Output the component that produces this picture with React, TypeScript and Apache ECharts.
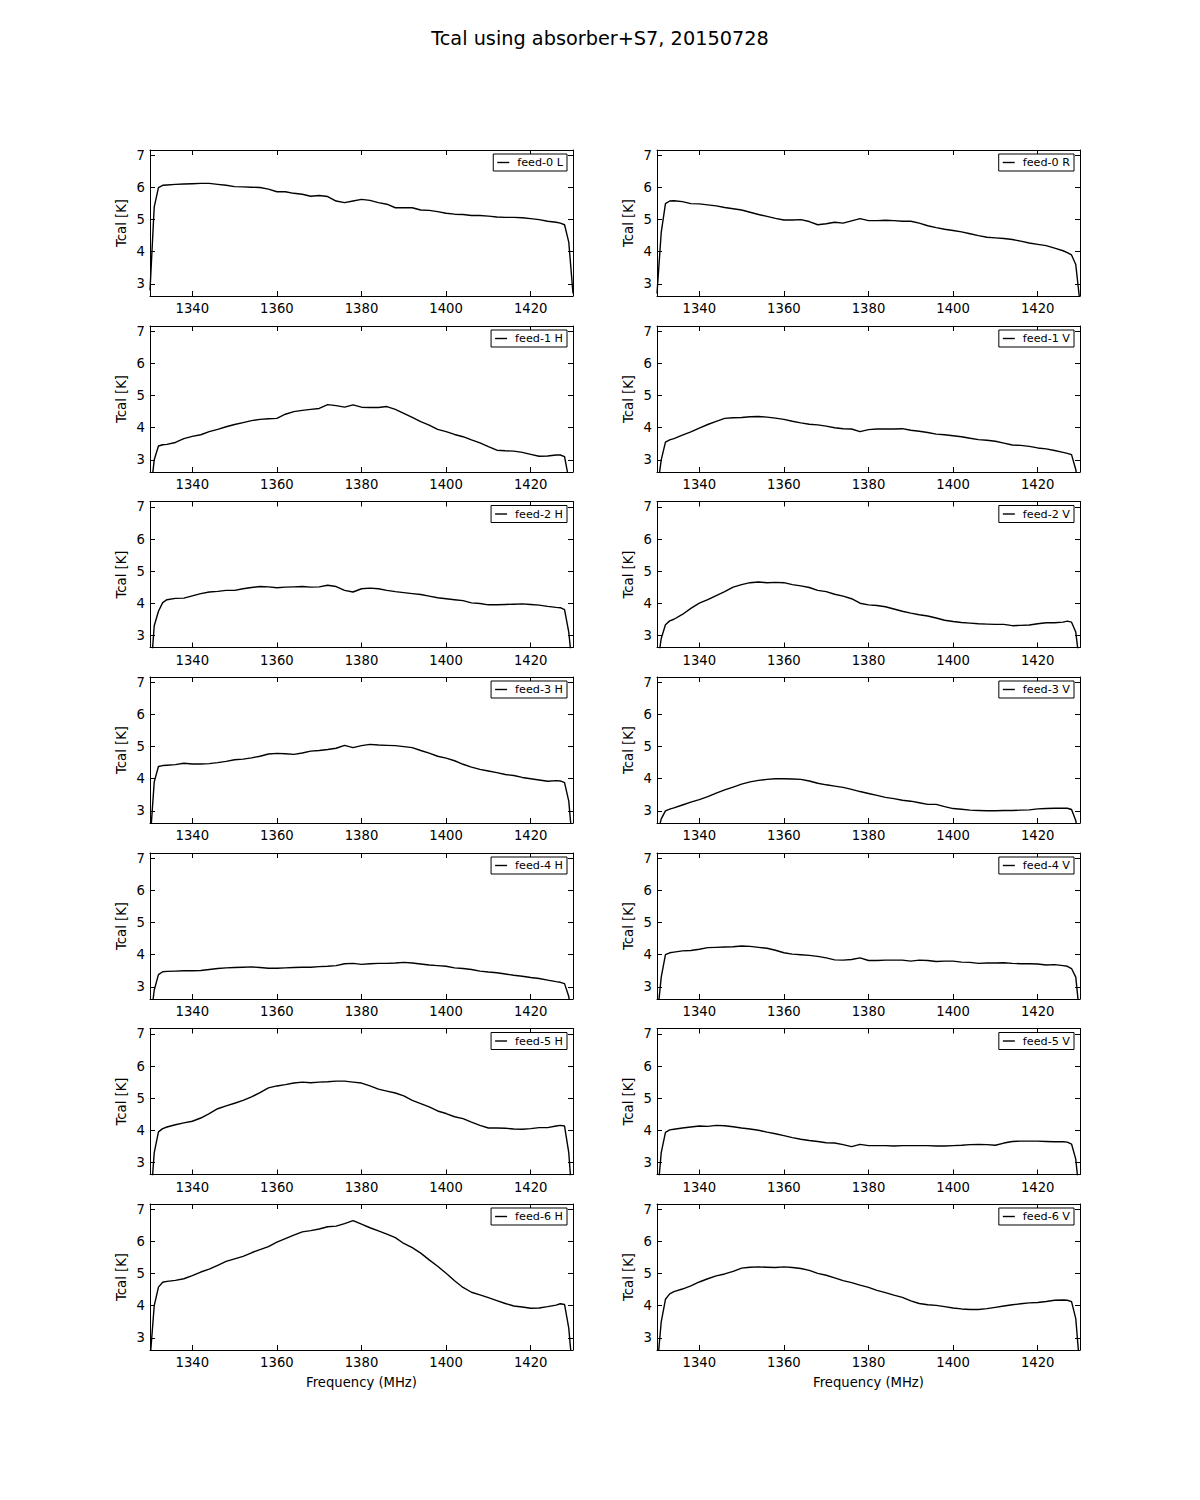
import React, { useEffect, useRef } from "react";
import * as echarts from "echarts";

const TITLE = "Tcal using absorber+S7, 20150728";
const X_LABEL = "Frequency (MHz)";
const Y_LABEL = "Tcal [K]";
const X_TICKS = [1340, 1360, 1380, 1400, 1420];
const Y_TICKS = [3, 4, 5, 6, 7];

const freqs = [
  1330, 1331, 1332, 1333,
  1334, 1336, 1338, 1340, 1342, 1344, 1346, 1348, 1350, 1352, 1354, 1356, 1358, 1360,
  1362, 1364, 1366, 1368, 1370, 1372, 1374, 1376, 1378, 1380, 1382, 1384, 1386, 1388,
  1390, 1392, 1394, 1396, 1398, 1400, 1402, 1404, 1406, 1408, 1410, 1412, 1414, 1416,
  1418, 1420, 1422, 1424, 1426,
  1427, 1428, 1429, 1430,
];

const feed0L = [2.8, 5.4, 6.0, 6.07,
  6.08, 6.1, 6.11, 6.12, 6.13, 6.13, 6.1, 6.07, 6.03, 6.02, 6.01, 6.0, 5.95, 5.87, 5.87, 5.82, 5.79, 5.73, 5.75, 5.72, 5.58, 5.53, 5.58, 5.63, 5.6, 5.53, 5.48, 5.37, 5.37, 5.37, 5.3, 5.29, 5.25, 5.2, 5.17, 5.16, 5.13, 5.13, 5.11, 5.08, 5.07, 5.07, 5.06, 5.03, 5.0, 4.95, 4.92,
  4.89, 4.84, 4.3, 2.7];
const feed0R = [2.7, 4.6, 5.5, 5.58,
  5.59, 5.56, 5.5, 5.49, 5.46, 5.43, 5.38, 5.34, 5.3, 5.23, 5.16, 5.1, 5.04, 4.99, 4.99, 5.0, 4.94, 4.84, 4.87, 4.92, 4.89, 4.96, 5.03, 4.97, 4.97, 4.98, 4.97, 4.95, 4.95, 4.89, 4.81, 4.75, 4.7, 4.66, 4.62, 4.56, 4.5, 4.45, 4.43, 4.41, 4.38, 4.33, 4.27, 4.23, 4.19, 4.11, 4.03,
  3.97, 3.9, 3.6, 2.4];
const feed1H = [1.8, 3.0, 3.43, 3.47,
  3.48, 3.54, 3.66, 3.73, 3.78, 3.88, 3.95, 4.03, 4.1, 4.16, 4.22, 4.26, 4.28, 4.29, 4.42, 4.5, 4.54, 4.57, 4.6, 4.72, 4.69, 4.64, 4.71, 4.64, 4.63, 4.63, 4.66, 4.57, 4.45, 4.32, 4.19, 4.08, 3.95, 3.88, 3.79, 3.72, 3.62, 3.53, 3.41, 3.3, 3.28, 3.27, 3.23, 3.17, 3.11, 3.12, 3.15,
  3.15, 3.1, 2.4, 1.5];
const feed1V = [2.0, 3.0, 3.55, 3.62,
  3.66, 3.77, 3.87, 3.99, 4.1, 4.2, 4.29, 4.31, 4.32, 4.34, 4.35, 4.33, 4.3, 4.26, 4.2, 4.15, 4.11, 4.09, 4.05, 4.0, 3.97, 3.96, 3.88, 3.94, 3.96, 3.96, 3.96, 3.97, 3.92, 3.89, 3.85, 3.8, 3.78, 3.75, 3.72, 3.67, 3.63, 3.61, 3.58, 3.52, 3.46, 3.45, 3.42, 3.37, 3.34, 3.29, 3.23,
  3.2, 3.16, 2.7, 1.8];
const feed2H = [1.5, 3.3, 3.75, 4.02,
  4.11, 4.15, 4.16, 4.23, 4.3, 4.35, 4.37, 4.4, 4.4, 4.45, 4.49, 4.52, 4.51, 4.48, 4.5, 4.51, 4.52, 4.5, 4.51, 4.56, 4.52, 4.4, 4.35, 4.45, 4.47, 4.45, 4.4, 4.36, 4.33, 4.3, 4.27, 4.22, 4.17, 4.14, 4.11, 4.08, 4.01, 3.99, 3.95, 3.95, 3.96, 3.97, 3.98, 3.96, 3.94, 3.9, 3.87,
  3.86, 3.8, 3.1, 1.8];
const feed2V = [2.0, 2.9, 3.33, 3.45,
  3.5, 3.65, 3.84, 4.0, 4.11, 4.24, 4.36, 4.5, 4.58, 4.64, 4.66, 4.64, 4.65, 4.64, 4.58, 4.54, 4.49, 4.4, 4.36, 4.28, 4.22, 4.14, 4.0, 3.95, 3.93, 3.89, 3.82, 3.75, 3.69, 3.64, 3.6, 3.54, 3.47, 3.43, 3.4, 3.38, 3.36, 3.35, 3.34, 3.34, 3.3, 3.31, 3.32, 3.36, 3.39, 3.39, 3.41,
  3.44, 3.41, 3.1, 2.0];
const feed3H = [2.0, 3.9, 4.38, 4.41,
  4.42, 4.44, 4.48, 4.46, 4.46, 4.47, 4.5, 4.54, 4.59, 4.61, 4.65, 4.7, 4.77, 4.79, 4.78, 4.76, 4.8, 4.86, 4.88, 4.91, 4.95, 5.04, 4.97, 5.03, 5.07, 5.05, 5.04, 5.03, 5.0, 4.97, 4.88, 4.8, 4.7, 4.64, 4.56, 4.45, 4.36, 4.29, 4.24, 4.19, 4.13, 4.1, 4.04, 4.0, 3.96, 3.92, 3.94,
  3.93, 3.88, 3.3, 1.8];
const feed3V = [2.2, 2.75, 3.0, 3.05,
  3.09, 3.18, 3.27, 3.35, 3.44, 3.55, 3.65, 3.74, 3.83, 3.9, 3.95, 3.98, 4.0, 4.0, 3.99, 3.98, 3.93, 3.86, 3.81, 3.77, 3.73, 3.67, 3.6, 3.54, 3.48, 3.42, 3.38, 3.33, 3.3, 3.25, 3.2, 3.2, 3.13, 3.07, 3.05, 3.02, 3.01, 3.0, 3.0, 3.01, 3.01, 3.02, 3.03, 3.06, 3.07, 3.08, 3.08,
  3.08, 3.04, 2.7, 1.8];
const feed4H = [1.8, 2.9, 3.38, 3.47,
  3.48, 3.49, 3.5, 3.5, 3.51, 3.54, 3.57, 3.59, 3.6, 3.61, 3.62, 3.6, 3.58, 3.58, 3.59, 3.6, 3.61, 3.61, 3.63, 3.64, 3.66, 3.72, 3.73, 3.7, 3.72, 3.73, 3.73, 3.74, 3.76, 3.74, 3.71, 3.68, 3.66, 3.64, 3.59, 3.57, 3.54, 3.49, 3.46, 3.44, 3.4, 3.36, 3.33, 3.29, 3.26, 3.21, 3.16,
  3.14, 3.1, 2.7, 1.5];
const feed4V = [2.0, 3.3, 4.0, 4.06,
  4.08, 4.12, 4.13, 4.17, 4.22, 4.23, 4.24, 4.25, 4.27, 4.26, 4.23, 4.2, 4.14, 4.06, 4.02, 4.0, 3.98, 3.95, 3.9, 3.84, 3.83, 3.85, 3.9, 3.82, 3.82, 3.83, 3.83, 3.83, 3.8, 3.83, 3.82, 3.79, 3.8, 3.8, 3.77, 3.76, 3.73, 3.74, 3.74, 3.75, 3.73, 3.72, 3.72, 3.71, 3.68, 3.69, 3.66,
  3.64, 3.57, 3.3, 2.0];
const feed5H = [1.5, 3.3, 3.95, 4.05,
  4.1, 4.17, 4.23, 4.28, 4.38, 4.52, 4.67, 4.76, 4.84, 4.93, 5.04, 5.17, 5.32, 5.38, 5.42, 5.47, 5.5, 5.48, 5.5, 5.51, 5.53, 5.53, 5.5, 5.47, 5.38, 5.28, 5.22, 5.16, 5.07, 4.93, 4.83, 4.73, 4.6, 4.52, 4.42, 4.36, 4.25, 4.15, 4.07, 4.07, 4.06, 4.04, 4.03, 4.05, 4.08, 4.08, 4.13,
  4.15, 4.13, 3.3, 1.5];
const feed5V = [1.8, 3.3, 3.93, 4.01,
  4.03, 4.07, 4.1, 4.13, 4.12, 4.15, 4.14, 4.11, 4.07, 4.04, 4.0, 3.94, 3.89, 3.83, 3.77, 3.72, 3.68, 3.65, 3.61, 3.6, 3.55, 3.49, 3.56, 3.52, 3.52, 3.52, 3.51, 3.52, 3.52, 3.52, 3.52, 3.51, 3.51, 3.52, 3.53, 3.55, 3.56, 3.55, 3.53, 3.6, 3.65, 3.66, 3.66, 3.66, 3.65, 3.64, 3.64,
  3.63, 3.57, 3.1, 1.8];
const feed6H = [2.3, 4.0, 4.58, 4.73,
  4.76, 4.79, 4.84, 4.94, 5.05, 5.14, 5.26, 5.38, 5.46, 5.54, 5.65, 5.75, 5.84, 5.98, 6.09, 6.2, 6.3, 6.34, 6.39, 6.46, 6.48, 6.56, 6.65, 6.54, 6.43, 6.33, 6.23, 6.12, 5.94, 5.81, 5.64, 5.43, 5.23, 5.01, 4.78, 4.57, 4.42, 4.34, 4.25, 4.16, 4.07, 3.99, 3.96, 3.92, 3.93, 3.97, 4.02,
  4.06, 4.04, 3.3, 1.8];
const feed6V = [2.0, 3.5, 4.2, 4.37,
  4.44, 4.52, 4.62, 4.74, 4.84, 4.93, 4.99, 5.07, 5.17, 5.2, 5.21, 5.2, 5.19, 5.21, 5.19, 5.16, 5.1, 5.01, 4.95, 4.87, 4.78, 4.72, 4.64, 4.57, 4.48, 4.41, 4.33, 4.26, 4.15, 4.07, 4.03, 4.01, 3.97, 3.93, 3.9, 3.88, 3.88, 3.91, 3.95, 3.99, 4.03, 4.06, 4.09, 4.1, 4.13, 4.17, 4.18,
  4.17, 4.13, 3.6, 2.0];

const panelNames = [
  ["feed-0 L", "feed-0 R"],
  ["feed-1 H", "feed-1 V"],
  ["feed-2 H", "feed-2 V"],
  ["feed-3 H", "feed-3 V"],
  ["feed-4 H", "feed-4 V"],
  ["feed-5 H", "feed-5 V"],
  ["feed-6 H", "feed-6 V"],
];
const panelValues = [
  [feed0L, feed0R],
  [feed1H, feed1V],
  [feed2H, feed2V],
  [feed3H, feed3V],
  [feed4H, feed4V],
  [feed5H, feed5V],
  [feed6H, feed6V],
];

const FONT = "DejaVu Sans";
const ROW_TOPS = [150, 326, 501.5, 677, 853, 1028.5, 1204];
const COL_LEFTS = [150, 657];
const PW = 423;
const PH = 146;

function buildOption() {
  const grid: any[] = [];
  const xAxis: any[] = [];
  const yAxis: any[] = [];
  const series: any[] = [];
  const legend: any[] = [];
  let idx = 0;
  for (let r = 0; r < panelNames.length; r++) {
    for (let c = 0; c < 2; c++) {
      const name = panelNames[r][c];
      const vals = panelValues[r][c];
      grid.push({ left: COL_LEFTS[c], top: ROW_TOPS[r], width: PW, height: PH, containLabel: false });
      const line = { show: true, onZero: false, lineStyle: { color: "#000", width: 1 } };
      const tick = (vals2: number[]) => ({
        show: true, inside: true, length: 5, customValues: vals2, lineStyle: { color: "#000", width: 1 },
      });
      xAxis.push({
        type: "value", gridIndex: idx, min: 1330, max: 1430, position: "bottom",
        axisLine: line, axisTick: tick(X_TICKS),
        axisLabel: {
          show: true, customValues: X_TICKS, color: "#000", fontSize: 13.2, fontFamily: FONT, margin: 6,
          formatter: (v: number) => String(v),
        },
        splitLine: { show: false },
        name: r === panelNames.length - 1 ? X_LABEL : "",
        nameLocation: "middle", nameGap: 26,
        nameTextStyle: { color: "#000", fontSize: 13.2, fontFamily: FONT },
      });
      xAxis.push({
        type: "value", gridIndex: idx, min: 1330, max: 1430, position: "top",
        axisLine: line, axisTick: tick(X_TICKS),
        axisLabel: { show: false }, splitLine: { show: false },
      });
      yAxis.push({
        type: "value", gridIndex: idx, min: 2.62, max: 7.17, position: "left",
        axisLine: line, axisTick: tick(Y_TICKS),
        axisLabel: {
          show: true, customValues: Y_TICKS, color: "#000", fontSize: 13.2, fontFamily: FONT, margin: 5,
          formatter: (v: number) => String(v),
        },
        splitLine: { show: false },
        name: Y_LABEL, nameLocation: "middle", nameGap: 22,
        nameTextStyle: { color: "#000", fontSize: 13.2, fontFamily: FONT },
      });
      yAxis.push({
        type: "value", gridIndex: idx, min: 2.62, max: 7.17, position: "right",
        axisLine: line, axisTick: tick(Y_TICKS),
        axisLabel: { show: false }, splitLine: { show: false },
      });
      series.push({
        type: "line", name, xAxisIndex: idx * 2, yAxisIndex: idx * 2,
        data: freqs.map((f, k) => [f, vals[k]]),
        symbol: "none", showSymbol: false, clip: true,
        lineStyle: { color: "#000", width: 1.4 }, itemStyle: { color: "#000" },
      });
      legend.push({
        data: [name], show: true,
        right: 1200 - (COL_LEFTS[c] + PW - 6), top: ROW_TOPS[r] + 4,
        orient: "horizontal", borderColor: "#000", borderWidth: 1, borderRadius: 0,
        padding: [3, 4, 3, 4], itemWidth: 12, itemHeight: 1.4, icon: "rect",
        selectedMode: false, backgroundColor: "#fff",
        textStyle: { fontSize: 11.2, color: "#000", fontFamily: FONT, padding: [0, 0, 0, 3] },
      });
      idx++;
    }
  }
  return {
    animation: false,
    backgroundColor: "#fff",
    title: {
      text: TITLE, left: "center", top: 24,
      textStyle: { fontSize: 19.3, fontWeight: "normal", color: "#000", fontFamily: FONT },
    },
    grid, xAxis, yAxis, series, legend,
  };
}

export default function App() {
  const ref = useRef<HTMLDivElement>(null);
  useEffect(() => {
    if (!ref.current) return;
    const chart = echarts.init(ref.current, undefined, { renderer: "svg" });
    chart.setOption(buildOption());
    return () => chart.dispose();
  }, []);
  return (
    <div
      ref={ref}
      style={{ position: "absolute", left: 0, top: 0, width: 1200, height: 1500, background: "#fff" }}
    />
  );
}
